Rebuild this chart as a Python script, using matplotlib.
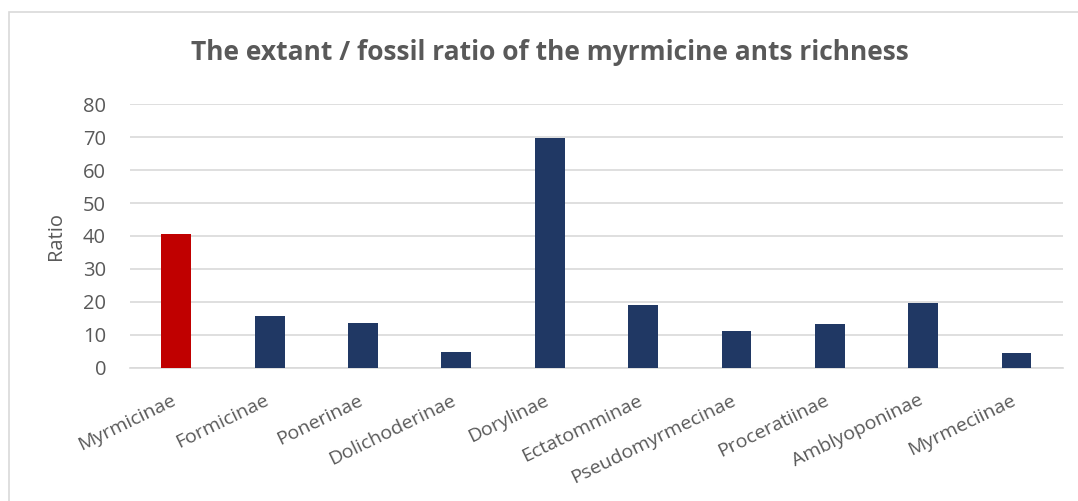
import matplotlib.pyplot as plt
from matplotlib.patches import Rectangle
from matplotlib.transforms import ScaledTranslation

# data
subfamilies = ["Myrmicinae", "Formicinae", "Ponerinae", "Dolichoderinae", "Dorylinae",
               "Ectatomminae", "Pseudomyrmecinae", "Proceratiinae", "Amblyoponinae", "Myrmeciinae"]
ratios = [40.5, 15.8, 13.5, 4.9, 69.7, 18.9, 11.3, 13.4, 19.8, 4.6]
bar_colors = ["#C00000"] + ["#203864"] * 9

plt.rcParams["font.family"] = ["Open Sans", "DejaVu Sans"]
grey = "#595959"

fig = plt.figure(figsize=(10.78, 5.01), dpi=100)
ax = fig.add_axes([0.1203, 0.266, 0.866, 0.526])

x = range(len(subfamilies))
ax.bar(x, ratios, width=0.32, color=bar_colors, zorder=3)

ax.set_xlim(-0.5, len(subfamilies) - 0.5)
ax.set_ylim(0, 80)
ax.set_yticks(range(0, 81, 10))
ax.yaxis.grid(True, color="#d9d9d9", linewidth=1.2, zorder=0)
ax.set_axisbelow(True)

for side in ["top", "right", "left"]:
    ax.spines[side].set_visible(False)
ax.spines["bottom"].set_color("#d9d9d9")
ax.spines["bottom"].set_linewidth(1.2)
ax.tick_params(axis="both", length=0, colors=grey)
ax.tick_params(axis="y", pad=17, labelsize=14.5)

ax.set_xticks(list(x))
ax.set_xticklabels(subfamilies, rotation=26, ha="right", va="top",
                   rotation_mode="anchor", fontsize=14, color=grey)
ax.tick_params(axis="x", pad=17)
# nudge the slanted labels a little left so they end at the tick
shift = ScaledTranslation(-4 / 72, 0, fig.dpi_scale_trans)
for lbl in ax.get_xticklabels():
    lbl.set_transform(lbl.get_transform() + shift)

ax.set_ylabel("Ratio", fontsize=14.5, color=grey, labelpad=12)
fig.text(0.51, 0.895, "The extant / fossil ratio of the myrmicine ants richness",
         ha="center", va="center", fontsize=19, fontweight="bold", color=grey)

# light chart border like the spreadsheet chart area
fig.patches.append(Rectangle((0.008, -0.05), 1.05, 1.026, transform=fig.transFigure,
                             fill=False, edgecolor="#d9d9d9", linewidth=1.2))

fig.savefig("out.png", dpi=100)
